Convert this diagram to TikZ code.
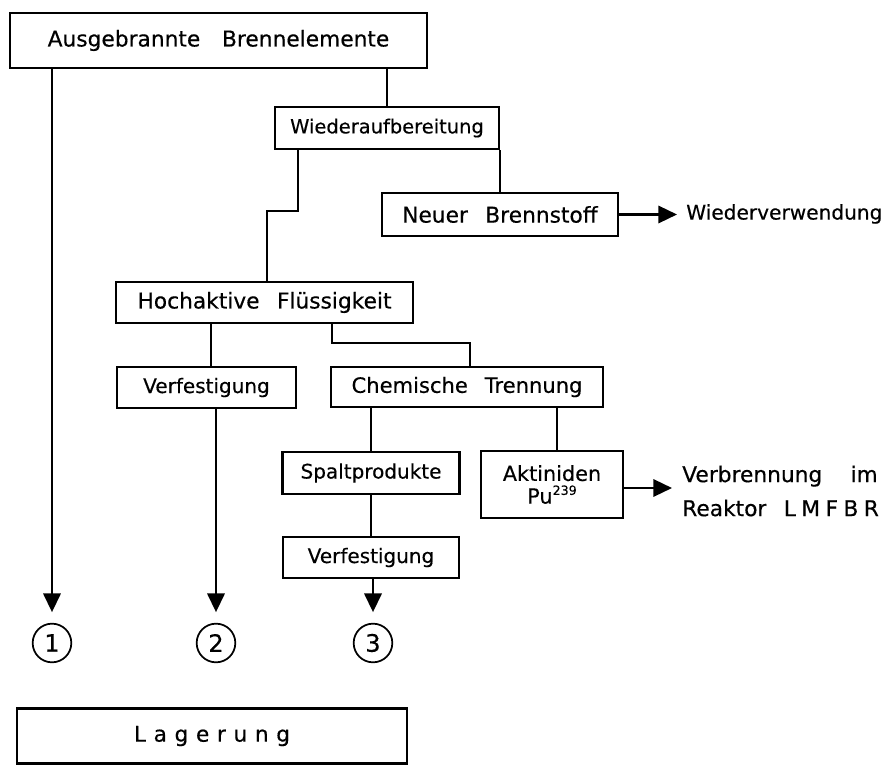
\documentclass[tikz,border=0pt]{standalone}
\usepackage{fontspec}
\setmainfont{DejaVu Sans}[FakeBold=0.4]
\usetikzlibrary{arrows.meta,calc}
\newcommand\wg{\hspace{0.8em}}
\newcommand\lsp{\hspace{0.35em}}
\newcommand\hs[2]{{\fontsize{#1pt}{19pt}\selectfont #2}}
\begin{document}
\begin{tikzpicture}[x=0.75pt,y=-0.75pt,
  every node/.style={font=\fontsize{16.3pt}{19pt}\selectfont},
  bx/.style 2 args={draw,line width=1.8pt,inner sep=0pt,minimum width=#1*0.75pt,minimum height=#2*0.75pt},
  ln/.style={line width=1.8pt},
  arr/.style={line width=1.8pt,-{Triangle[length=14pt,width=13pt]}},
  num/.style={draw,circle,line width=1.3pt,minimum size=29pt,inner sep=0pt,font=\fontsize{18pt}{18pt}\selectfont},
  plain/.style={inner sep=0pt}]
\useasboundingbox (0,0) rectangle (889,766);
% boxes
\node[bx={417}{55}] (A) at (218.5,40.5) {Ausgebrannte\hspace{1em}Brennelemente};
\node[bx={224}{42}] (W) at (387,128) {\hs{14.6}{Wiederaufbereitung}};
\node[bx={236}{43}] (N) at (500,214.5) {Neuer\wg Brennstoff};
\node[bx={297}{41}] (H) at (264.5,302.5) {Hochaktive\wg Flüssigkeit};
\node[bx={179}{41}] (V1) at (206.5,387.5) {\hs{15}{Verfestigung}};
\node[bx={272}{40}] (C) at (467,387) {\hs{15.8}{Chemische\wg Trennung}};
\node[bx={177}{42}] (S) at (371,473) {\hs{15}{Spaltprodukte}};
\node[bx={142}{67},align=center,font=\fontsize{15.6pt}{17pt}\selectfont] (K) at (552,484.5) {Aktiniden\\Pu\raisebox{0.42em}{\fontsize{9.5pt}{9.5pt}\selectfont 239}};
\node[bx={176}{41}] (V2) at (371,557.5) {\hs{15}{Verfestigung}};
\node[bx={390}{55}] (L) at (212,736) {L\lsp a\lsp g\lsp e\lsp r\lsp u\lsp n\lsp g};
% circles
\node[num] (c1) at (52,643) {1};
\node[num] (c2) at (216,643) {2};
\node[num] (c3) at (373,643) {3};
% free texts
\node[plain,anchor=west] (wv) at (686,214) {\hs{15.1}{Wiederverwendung}};
\node[plain,anchor=west,align=left,font=\fontsize{16.3pt}{25.5pt}\selectfont] (vb) at (682,491) {Verbrennung\hspace{1.3em}im\\Reaktor\hspace{0.8em}L\hspace{0.25em}M\hspace{0.25em}F\hspace{0.25em}B\hspace{0.25em}R};
% helper coordinates
\coordinate (b1) at (298,211);
\coordinate (b2) at (267,211);
\coordinate (hx) at (211,0);
\coordinate (b3) at (332,343);
\coordinate (b4) at (470,343);
\coordinate (kx) at (557,0);
\coordinate (nt) at (677,214.5);
\coordinate (kt) at (672,488);
% connectors
\draw[arr] (A.south -| c1) -- ([yshift=8pt]c1.north);
\draw[ln] (A.south -| W.north) -- (W.north);
\draw[ln] (W.south -| b1) -- (b1) -- (b2) -- (H.north -| b2);
\draw[ln] (W.south -| N.north) -- (N.north);
\draw[arr] (N.east) -- (nt);
\draw[ln] (H.south -| hx) -- (V1.north -| hx);
\draw[ln] (H.south -| b3) -- (b3) -- (b4) -- (C.north -| b4);
\draw[arr] (V1.south -| c2) -- ([yshift=8pt]c2.north);
\draw[ln] (C.south -| S.north) -- (S.north);
\draw[ln] (C.south -| kx) -- (K.north -| kx);
\draw[ln] (S.south) -- (V2.north);
\draw[arr] (V2.south -| c3) -- ([yshift=8pt]c3.north);
\draw[arr] (K.east |- kt) -- (kt);
\end{tikzpicture}
\end{document}
